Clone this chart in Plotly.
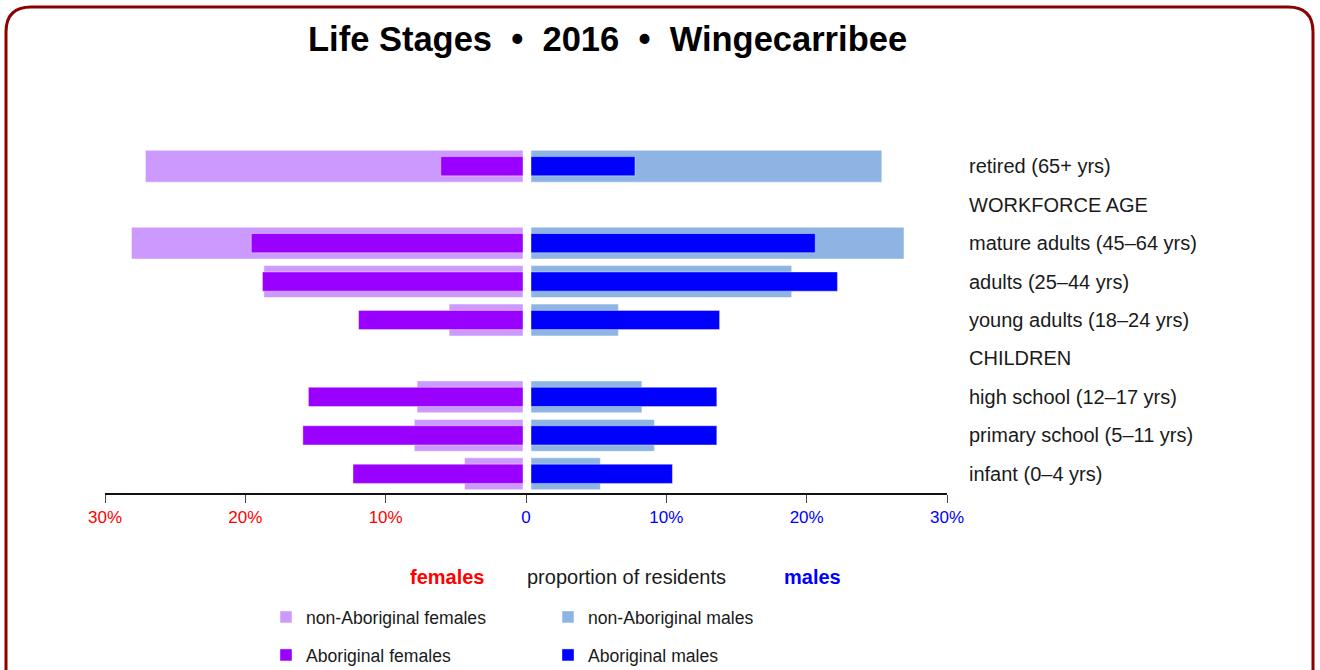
import plotly.graph_objects as go

W, H = 1320, 670

def px(x):
    return x / W

def py(y):
    return 1 - y / H

categories = ["retired (65+ yrs)", "WORKFORCE AGE", "mature adults (45–64 yrs)",
              "adults (25–44 yrs)", "young adults (18–24 yrs)", "CHILDREN",
              "high school (12–17 yrs)", "primary school (5–11 yrs)", "infant (0–4 yrs)"]
positions = [8, 7, 6, 5, 4, 3, 2, 1, 0]

nonab_females = [27.1, None, 28.1, 18.6, 5.3, None, 7.6, 7.8, 4.2]
ab_females = [5.9, None, 19.5, 18.7, 11.8, None, 15.4, 15.8, 12.2]
nonab_males = [25.3, None, 26.9, 18.8, 6.3, None, 8.0, 8.9, 5.0]
ab_males = [7.5, None, 20.5, 22.1, 13.6, None, 13.4, 13.4, 10.2]

tick_vals = [-30, -20, -10, 0, 10, 20, 30]
tick_text = ["30%", "20%", "10%", "0", "10%", "20%", "30%"]
tick_colors = ["#FF0000", "#FF0000", "#FF0000", "#0000FF", "#0000FF", "#0000FF", "#0000FF"]

NARROW = "Liberation Sans Narrow, Arial Narrow, Liberation Sans, Arial, sans-serif"
BOLD = "Liberation Sans, Arial, sans-serif"

fig = go.Figure()

fig.add_trace(go.Bar(y=positions, x=nonab_females, orientation="h", width=0.83,
                     name="non-Aboriginal females", xaxis="x", yaxis="y",
                     marker=dict(color="#CC99FF", line=dict(color="rgba(255,255,255,0.5)", width=1)),
                     legend="legend"))
fig.add_trace(go.Bar(y=positions, x=nonab_males, orientation="h", width=0.83,
                     name="non-Aboriginal males", xaxis="x2", yaxis="y",
                     marker=dict(color="#8DB4E2", line=dict(color="rgba(255,255,255,0.5)", width=1)),
                     legend="legend"))
fig.add_trace(go.Bar(y=positions, x=ab_females, orientation="h", width=0.5,
                     name="Aboriginal females", xaxis="x", yaxis="y",
                     marker=dict(color="#9900FF", line=dict(color="rgba(255,255,255,0.4)", width=1)),
                     legend="legend2"))
fig.add_trace(go.Bar(y=positions, x=ab_males, orientation="h", width=0.5,
                     name="Aboriginal males", xaxis="x2", yaxis="y",
                     marker=dict(color="#0000FF", line=dict(color="rgba(255,255,255,0.4)", width=1)),
                     legend="legend2"))
fig.add_trace(go.Scatter(x=[None], y=[None], xaxis="x3", yaxis="y", showlegend=False,
                         hoverinfo="skip"))

# rounded border
r = 25
x0, x1, y0, y1 = 6, 1313, 7, 720
path = (f"M {px(x0 + r)},{py(y0)} L {px(x1 - r)},{py(y0)} "
        f"Q {px(x1)},{py(y0)} {px(x1)},{py(y0 + r)} L {px(x1)},{py(y1)} "
        f"L {px(x0)},{py(y1)} L {px(x0)},{py(y0 + r)} "
        f"Q {px(x0)},{py(y0)} {px(x0 + r)},{py(y0)} Z")

sp = " \u00a0"
title = f"<b>Life Stages{sp}•{sp}2016{sp}•{sp}Wingecarribee</b>"

fig.update_layout(
    width=W, height=H,
    margin=dict(l=0, r=0, t=0, b=0, autoexpand=False),
    paper_bgcolor="white", plot_bgcolor="rgba(0,0,0,0)",
    barmode="overlay",
    showlegend=True,
    font=dict(family=NARROW, size=20, color="#1a1a1a"),
    xaxis=dict(domain=[px(105), px(523)], range=[30, 0], visible=False, anchor="y"),
    xaxis2=dict(domain=[px(531), px(947)], range=[0, 30], visible=False, anchor="y"),
    xaxis3=dict(domain=[px(105), px(947)], range=[-30, 30], anchor="y",
                showline=True, linecolor="#111", linewidth=2,
                ticks="outside", ticklen=8, tickcolor="#444", tickwidth=1,
                tickvals=tick_vals,
                ticktext=[f"<span style='color:{c}'>{t}</span>" for t, c in zip(tick_text, tick_colors)],
                tickfont=dict(family=NARROW, size=17),
                showgrid=False, zeroline=False),
    yaxis=dict(domain=[py(493), py(147)], range=[-0.5, 8.5], anchor="free",
               position=px(947), side="right", tickvals=positions, ticktext=categories,
               showline=False, showgrid=False, zeroline=False, ticks="",
               ticklabelstandoff=21, tickfont=dict(family=NARROW, size=20, color="#1a1a1a")),
    legend=dict(orientation="h", x=px(266), y=py(617), xanchor="left", yanchor="middle",
                entrywidth=237, entrywidthmode="pixels", itemwidth=30,
                font=dict(family=NARROW, size=17.6, color="#1a1a1a"), bgcolor="rgba(0,0,0,0)",
                traceorder="normal", itemclick=False),
    legend2=dict(orientation="h", x=px(266), y=py(655), xanchor="left", yanchor="middle",
                 entrywidth=237, entrywidthmode="pixels", itemwidth=30,
                 font=dict(family=NARROW, size=17.6, color="#1a1a1a"), bgcolor="rgba(0,0,0,0)",
                 traceorder="normal", itemclick=False),
    shapes=[dict(type="path", path=path, xref="paper", yref="paper",
                 line=dict(color="#8B0000", width=3), fillcolor="rgba(0,0,0,0)", layer="above")],
    annotations=[
        dict(text=title, x=px(607), y=py(39),
             xref="paper", yref="paper", showarrow=False, xanchor="center", yanchor="middle",
             font=dict(family=BOLD, size=34.5, color="#000")),
        dict(text="<b>females</b>", x=px(447), y=py(577), xref="paper", yref="paper",
             showarrow=False, xanchor="center", yanchor="middle",
             font=dict(family=NARROW, size=20, color="#FF0000")),
        dict(text="proportion of residents", x=px(626), y=py(577), xref="paper", yref="paper",
             showarrow=False, xanchor="center", yanchor="middle",
             font=dict(family=NARROW, size=20, color="#1a1a1a")),
        dict(text="<b>males</b>", x=px(812), y=py(577), xref="paper", yref="paper",
             showarrow=False, xanchor="center", yanchor="middle",
             font=dict(family=NARROW, size=20, color="#0000FF")),
    ],
)

fig.write_html("out.html", config={"displayModeBar": False},
               post_script="document.body.style.margin='0px';document.body.style.overflow='hidden';")
